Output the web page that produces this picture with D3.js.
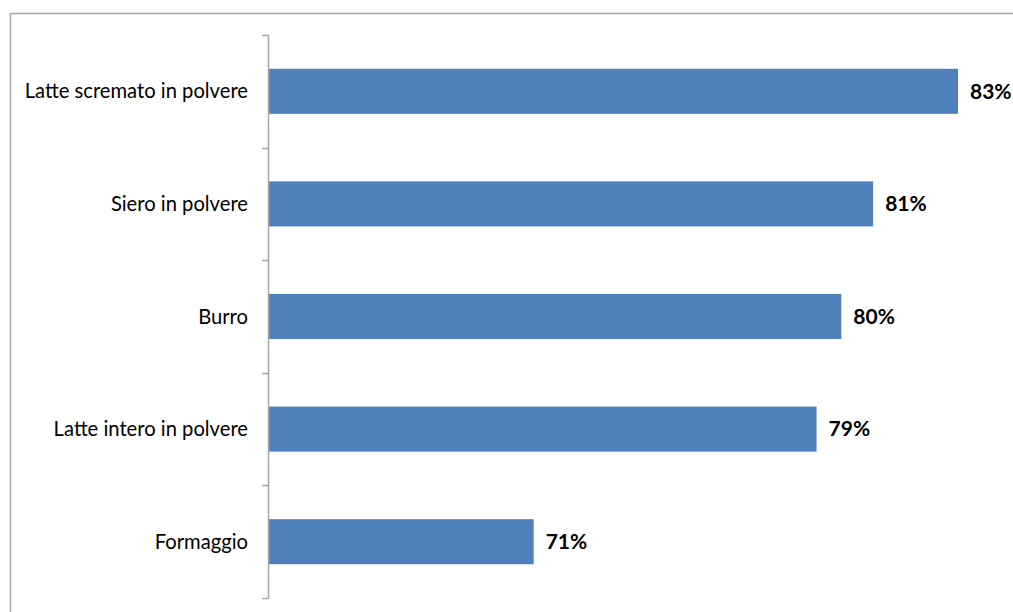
<!DOCTYPE html>
<html>
<head>
<meta charset="utf-8">
<script src="https://cdnjs.cloudflare.com/ajax/libs/d3/7.8.5/d3.min.js"></script>
<style>
  body { margin: 0; background: #fff; }
  svg { display: block; font-family: Lato, "Open Sans", sans-serif; }
</style>
</head>
<body>
<svg id="chart" width="1013" height="612"></svg>
<script>
const categories = ['Latte scremato in polvere', 'Siero in polvere', 'Burro', 'Latte intero in polvere', 'Formaggio'];
const values = [0.830, 0.806, 0.797, 0.790, 0.710];
const axisDomain = [0.635, 0.83];

const svg = d3.select('#chart');

// chart frame
svg.append('rect')
    .attr('x', 10.5).attr('y', 13.5)
    .attr('width', 1020).attr('height', 620)
    .attr('fill', 'none')
    .attr('stroke', '#a6a6a6')
    .attr('stroke-width', 1.5);

const x = d3.scaleLinear().domain(axisDomain).range([268.5, 958]);
const y = d3.scaleBand().domain(categories).range([35, 598]).paddingInner(0.6).paddingOuter(0.3);

const rows = categories.map((c, i) => ({ cat: c, val: values[i] }));

svg.selectAll('rect.bar')
    .data(rows)
    .join('rect')
    .attr('class', 'bar')
    .attr('x', x(axisDomain[0]))
    .attr('y', d => y(d.cat))
    .attr('width', d => x(d.val) - x(axisDomain[0]))
    .attr('height', y.bandwidth())
    .attr('fill', '#4f81bd');

// category axis with ticks between bands
const step = y.step();
const boundaries = d3.range(categories.length + 1).map(i => 35 + i * step);
const axisG = svg.append('g');
axisG.append('line')
    .attr('x1', 268.5).attr('x2', 268.5)
    .attr('y1', boundaries[0]).attr('y2', boundaries[boundaries.length - 1])
    .attr('stroke', '#a6a6a6').attr('stroke-width', 1.5);
axisG.selectAll('line.tick')
    .data(boundaries)
    .join('line')
    .attr('class', 'tick')
    .attr('x1', 262).attr('x2', 268.5)
    .attr('y1', d => Math.round(d) + 0.5).attr('y2', d => Math.round(d) + 0.5)
    .attr('stroke', '#a6a6a6').attr('stroke-width', 1.5);

svg.selectAll('text.cat')
    .data(rows)
    .join('text')
    .attr('class', 'cat')
    .attr('x', 248)
    .attr('y', d => y(d.cat) + y.bandwidth() / 2)
    .attr('dy', '0.35em')
    .attr('text-anchor', 'end')
    .attr('font-size', 20.2)
    .attr('fill', '#000')
    .text(d => d.cat);

svg.selectAll('text.val')
    .data(rows)
    .join('text')
    .attr('class', 'val')
    .attr('x', d => x(d.val) + 12)
    .attr('y', d => y(d.cat) + y.bandwidth() / 2)
    .attr('dy', '0.35em')
    .attr('font-size', 21)
    .attr('font-weight', 'bold')
    .attr('fill', '#000')
    .text(d => d3.format('.0%')(d.val));
</script>
</body>
</html>
